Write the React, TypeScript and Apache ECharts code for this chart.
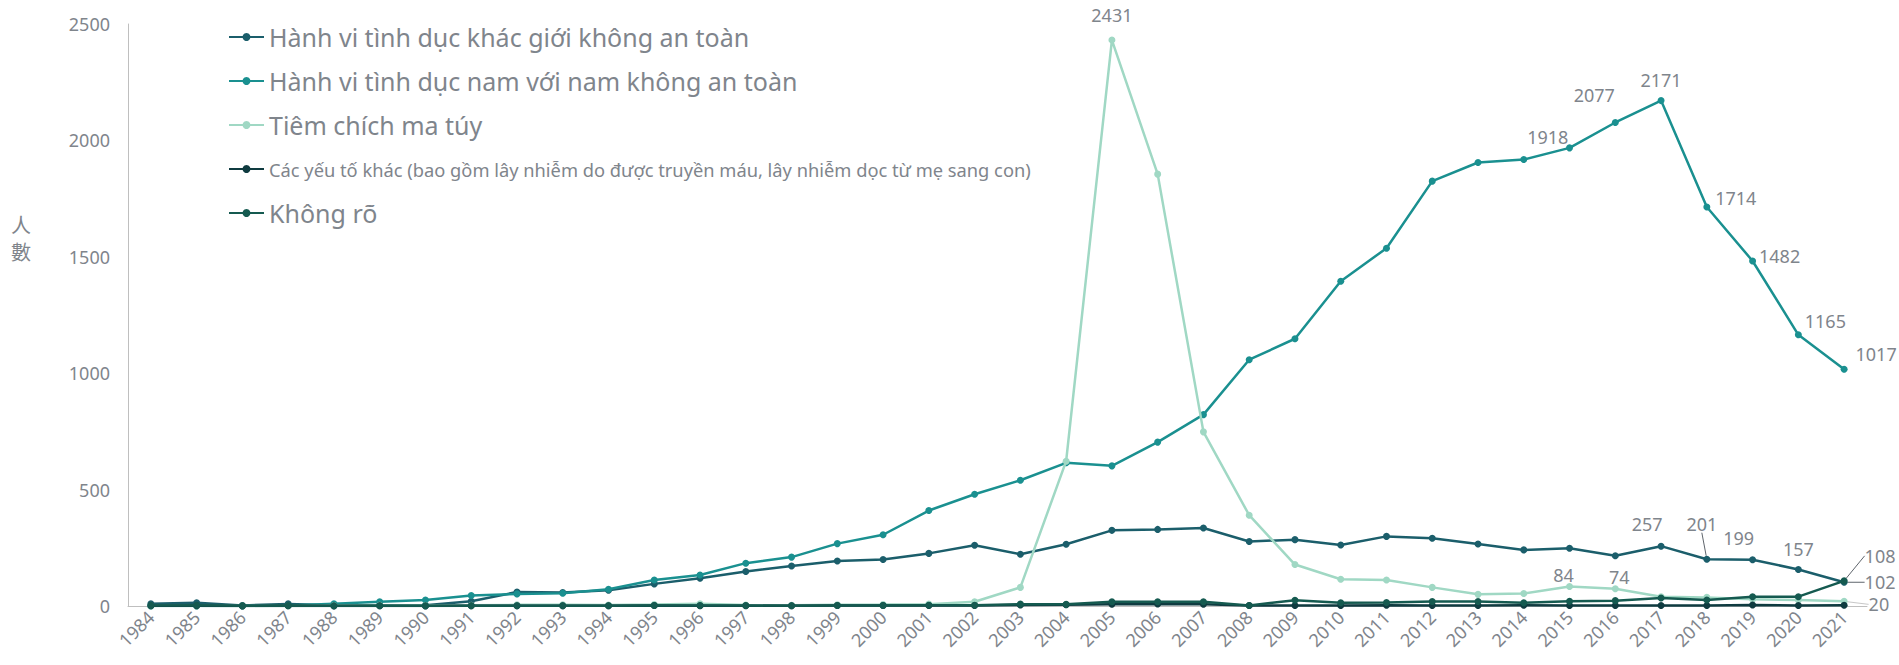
import React, { useEffect, useRef } from 'react';
import * as echarts from 'echarts';

const years = ['1984','1985','1986','1987','1988','1989','1990','1991','1992','1993','1994','1995','1996','1997','1998','1999','2000','2001','2002','2003','2004','2005','2006','2007','2008','2009','2010','2011','2012','2013','2014','2015','2016','2017','2018','2019','2020','2021'];

const heteroName = 'Hành vi tình dục khác giới không an toàn';
const msmName = 'Hành vi tình dục nam với nam không an toàn';
const iduName = 'Tiêm chích ma túy';
const otherName = 'Các yếu tố khác (bao gồm lây nhiễm do được truyền máu, lây nhiễm dọc từ mẹ sang con)';
const unknownName = 'Không rõ';

const heteroValues = [10,14,2,9,3,3,3,20,60,58,68,95,119,148,172,193,200,226,261,222,265,325,329,335,277,285,262,299,291,266,241,248,216,257,201,199,157,102];
const msmValues = [0,0,0,2,10,18,26,45,52,55,72,112,133,184,210,268,306,410,480,540,615,602,704,822,1058,1148,1395,1537,1825,1905,1918,1968,2077,2171,1714,1482,1165,1017];
const iduValues = [0,0,0,0,2,3,2,3,5,5,4,6,10,4,3,5,6,8,18,80,622,2431,1855,748,390,178,115,112,80,50,54,84,74,40,37,29,26,20];
const otherValues = [1,1,0,1,0,1,0,1,1,1,1,2,1,1,1,2,2,2,2,4,5,8,9,8,2,2,2,3,2,2,3,2,2,2,2,4,2,3];
const unknownValues = [2,3,1,2,1,1,1,1,1,1,1,2,2,2,1,2,2,3,3,8,7,18,18,18,2,25,14,15,19,19,14,20,23,34,26,40,40,108];

const yTicks = { min: 0, max: 2500, interval: 500 };

const GRAY = '#7f858c';
const FONT = '"Noto Sans", "Noto Sans CJK TC", sans-serif';

// label placement per year: move = shift from default place; line = draw a leader line
type LabelSpec = { position?: string; move: number[]; line?: string };
const heteroLabels: Record<string, LabelSpec> = {
  '2017': { move: [-14, -5] },
  '2018': { move: [-5, -18], line: '#5f656c' },
  '2019': { move: [-14, -4] },
  '2020': { move: [0, -3] },
  '2021': { position: 'right', move: [12, 0], line: '#5f656c' },
};
const msmLabels: Record<string, LabelSpec> = {
  '2014': { move: [24, -5] },
  '2016': { move: [-21, -10] },
  '2017': { move: [0, -3] },
  '2018': { move: [29, 9] },
  '2019': { move: [27, 12] },
  '2020': { move: [27, 4] },
  '2021': { move: [32, 2] },
};
const iduLabels: Record<string, LabelSpec> = {
  '2005': { move: [0, -8] },
  '2015': { move: [-6, 6] },
  '2016': { move: [4, 6] },
  '2021': { position: 'right', move: [16, 3], line: '#c8c8c8' },
};
const unknownLabels: Record<string, LabelSpec> = {
  '2021': { position: 'right', move: [12, -25], line: '#5f656c' },
};
const otherLabels: Record<string, LabelSpec> = {};

function buildData(values: number[], labels: Record<string, LabelSpec>) {
  return values.map((v, i) => {
    const spec = labels[years[i]];
    if (!spec) return v;
    const item: any = {
      value: v,
      label: {
        show: true,
        position: spec.position || 'top',
        distance: 5,
        fontSize: 18,
        color: GRAY,
        fontFamily: FONT,
      },
      labelLine: spec.line
        ? { show: true, lineStyle: { color: spec.line, width: 1 } }
        : { show: false },
    };
    return item;
  });
}

function layoutFor(labels: Record<string, LabelSpec>) {
  return (params: any) => {
    const spec = labels[years[params.dataIndex]];
    if (spec) return { dx: spec.move[0], dy: spec.move[1] };
    return {};
  };
}

function makeSeries(name: string, values: number[], color: string, labels: Record<string, LabelSpec>, z: number) {
  return {
    type: 'line',
    name,
    data: buildData(values, labels),
    symbol: 'circle',
    symbolSize: 7,
    z,
    lineStyle: { width: 2.5, color },
    itemStyle: { color },
    label: { show: false, fontSize: 18, color: GRAY, fontFamily: FONT },
    labelLine: { show: false, lineStyle: { color: '#5f656c', width: 1 } },
    labelLayout: layoutFor(labels),
    emphasis: { disabled: true },
  };
}

export default function App() {
  const ref = useRef<HTMLDivElement>(null);
  useEffect(() => {
    if (!ref.current) return;
    const chart = echarts.init(ref.current, undefined, { renderer: 'svg' });
    const legendBig = { fontSize: 25, lineHeight: 30, color: GRAY, fontFamily: FONT };
    chart.setOption({
      animation: false,
      textStyle: { fontFamily: FONT },
      grid: { left: 128, right: 32, top: 24, bottom: 59, containLabel: false },
      legend: {
        orient: 'vertical',
        left: 228,
        top: 22,
        padding: 0,
        itemGap: 14,
        itemWidth: 35,
        itemHeight: 10,
        textStyle: legendBig,
        data: [
          { name: heteroName, textStyle: legendBig },
          { name: msmName, textStyle: legendBig },
          { name: iduName, textStyle: legendBig },
          { name: otherName, textStyle: { fontSize: 18.3, lineHeight: 30, color: GRAY, fontFamily: FONT } },
          { name: unknownName, textStyle: legendBig },
        ],
      },
      xAxis: {
        type: 'category',
        data: years,
        boundaryGap: true,
        axisLine: { lineStyle: { color: '#bfbfbf', width: 1 } },
        axisTick: { show: false },
        axisLabel: { rotate: 45, interval: 0, fontSize: 18, color: GRAY, margin: 8, fontFamily: FONT },
        splitLine: { show: false },
      },
      yAxis: {
        type: 'value',
        min: yTicks.min,
        max: yTicks.max,
        interval: yTicks.interval,
        axisLine: { show: true, lineStyle: { color: '#bfbfbf', width: 1 } },
        axisTick: { show: false },
        axisLabel: { fontSize: 18, color: GRAY, margin: 18, fontFamily: FONT, formatter: (v: number) => String(v) },
        splitLine: { show: false },
      },
      graphic: [
        {
          type: 'text',
          x: 21,
          y: 211,
          style: {
            text: '人\n數',
            fontSize: 20,
            lineHeight: 27,
            fill: GRAY,
            align: 'center',
            fontFamily: '"Noto Sans CJK TC", sans-serif',
          },
        },
      ],
      series: [
        makeSeries(heteroName, heteroValues, '#1b5e6b', heteroLabels, 2),
        makeSeries(msmName, msmValues, '#1a9090', msmLabels, 3),
        makeSeries(iduName, iduValues, '#a0d8c4', iduLabels, 4),
        makeSeries(otherName, otherValues, '#0f3b40', otherLabels, 5),
        makeSeries(unknownName, unknownValues, '#155a50', unknownLabels, 6),
      ],
    });
    return () => chart.dispose();
  }, []);
  return <div ref={ref} style={{ position: 'fixed', left: 0, top: 0, width: 1899, height: 665, background: '#fff' }} />;
}
